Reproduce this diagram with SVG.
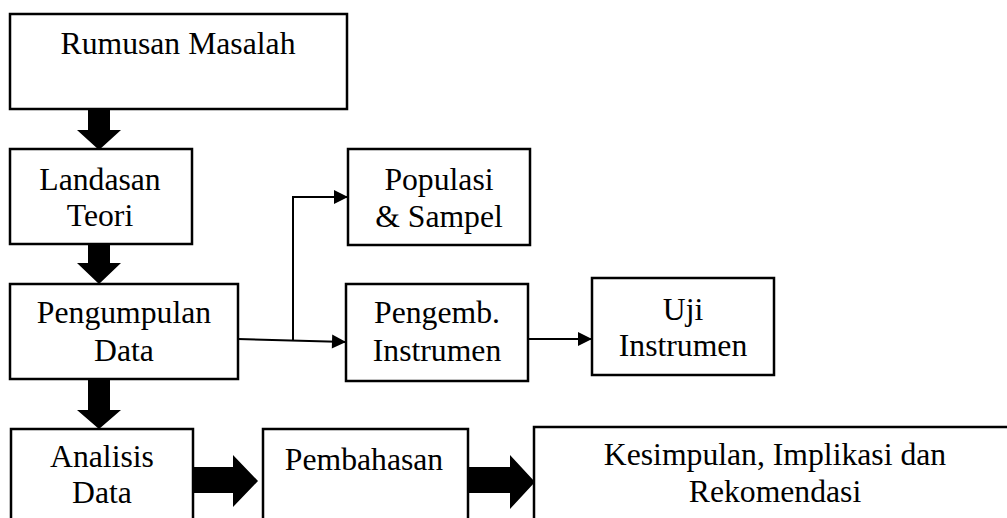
<svg xmlns="http://www.w3.org/2000/svg" width="1007" height="518" viewBox="0 0 1007 518">
  <style>
    .box { fill: #ffffff; stroke: #000000; stroke-width: 2.5; }
    .lbl { font-family: "Liberation Serif", "Times New Roman", serif; font-size: 31.7px; fill: #000000; text-anchor: middle; }
    .thin { fill: none; stroke: #000000; stroke-width: 2; marker-end: url(#ah); }
    .thick { fill: #000000; stroke: none; }
  </style>
  <defs>
    <marker id="ah" markerUnits="userSpaceOnUse" markerWidth="16" markerHeight="16" viewBox="0 0 16 16" refX="15" refY="8" orient="auto">
      <path d="M1,1 L15,8 L1,15 Z" fill="#000000"/>
    </marker>
  </defs>
  <rect x="0" y="0" width="1007" height="518" fill="#ffffff"/>

  <g id="connectors">
    <polygon class="thick" points="88,109 110,109 110,130 121,130 99,150 77,130 88,130"/>
    <polygon class="thick" points="88,244 110,244 110,263 121,263 99,284 77,263 88,263"/>
    <polygon class="thick" points="88,379 110,379 110,410 121,410 99,429 77,410 88,410"/>
    <polygon class="thick" points="193,467 233,467 233,455 258,481 233,507 233,493 193,493"/>
    <polygon class="thick" points="468,467 510,467 510,455 535,482 510,509 510,493 468,493"/>
    <path class="thin" d="M238,339 L346,342"/>
    <path class="thin" d="M293,340 L293,197 L348,197"/>
    <path class="thin" d="M528,339 L592,339"/>
  </g>

  <g id="rumusan">
    <rect class="box" x="10" y="14" width="337" height="95"/>
    <text class="lbl" x="178" y="54">Rumusan Masalah</text>
  </g>
  <g id="landasan">
    <rect class="box" x="10" y="149" width="182" height="95"/>
    <text class="lbl" x="100" y="190">Landasan</text>
    <text class="lbl" x="100" y="226">Teori</text>
  </g>
  <g id="pengumpulan">
    <rect class="box" x="10" y="284" width="228" height="95"/>
    <text class="lbl" x="124" y="323">Pengumpulan</text>
    <text class="lbl" x="124" y="361">Data</text>
  </g>
  <g id="analisis">
    <rect class="box" x="11" y="429" width="182" height="110"/>
    <text class="lbl" x="102" y="467">Analisis</text>
    <text class="lbl" x="102" y="503">Data</text>
  </g>
  <g id="populasi">
    <rect class="box" x="348" y="149" width="182" height="96"/>
    <text class="lbl" x="439" y="190">Populasi</text>
    <text class="lbl" x="439" y="227">&amp; Sampel</text>
  </g>
  <g id="pengemb">
    <rect class="box" x="346" y="284" width="182" height="97"/>
    <text class="lbl" x="437" y="323">Pengemb.</text>
    <text class="lbl" x="437" y="361">Instrumen</text>
  </g>
  <g id="uji">
    <rect class="box" x="592" y="278" width="182" height="97"/>
    <text class="lbl" x="683" y="320">Uji</text>
    <text class="lbl" x="683" y="356">Instrumen</text>
  </g>
  <g id="pembahasan">
    <rect class="box" x="263" y="429" width="205" height="110"/>
    <text class="lbl" x="364" y="470">Pembahasan</text>
  </g>
  <g id="kesimpulan">
    <rect class="box" x="534" y="427" width="500" height="110"/>
    <text class="lbl" x="775" y="465">Kesimpulan, Implikasi dan</text>
    <text class="lbl" x="775" y="502">Rekomendasi</text>
  </g>
</svg>
